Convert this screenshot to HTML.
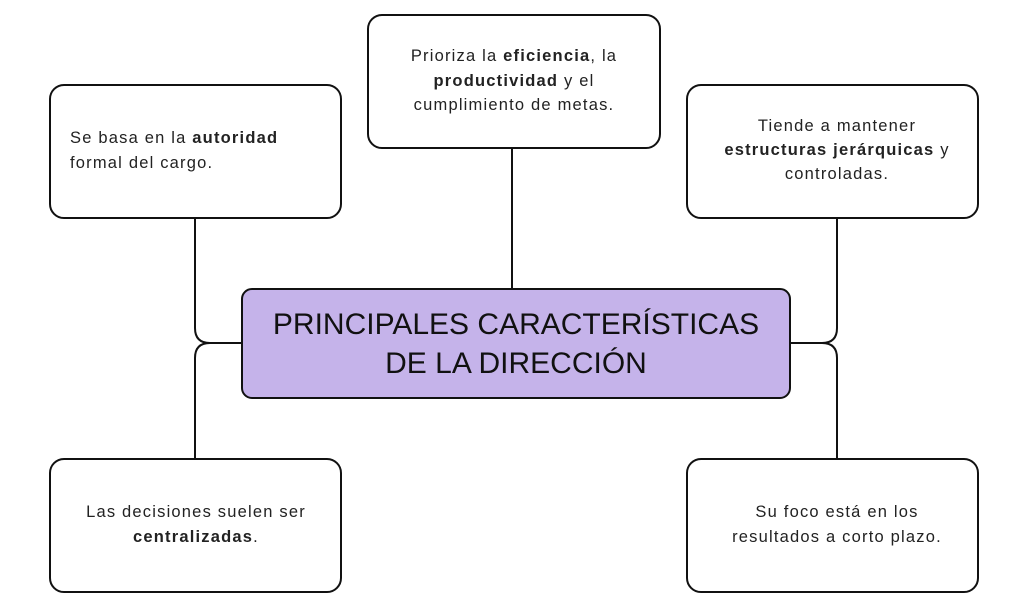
<!DOCTYPE html>
<html><head><meta charset="utf-8"><style>
html,body{margin:0;padding:0;background:#fff;}
svg{display:block;font-family:"Liberation Sans",sans-serif;}
text{fill:#222;font-size:16.5px;letter-spacing:1.2px;}
</style></head><body>
<svg width="1024" height="612" viewBox="0 0 1024 612">
<g fill="none" stroke="#111" stroke-width="2">
<path d="M512 148 V289"/>
<path d="M195 218 V328 Q195 343 210 343 H243"/>
<path d="M243 343 H210 Q195 343 195 358 V460"/>
<path d="M837 218 V328 Q837 343 822 343 H790"/>
<path d="M790 343 H822 Q837 343 837 358 V460"/>
<rect x="50" y="85" width="291" height="133" rx="14" fill="#fff"/>
<rect x="368" y="15" width="292" height="133" rx="14" fill="#fff"/>
<rect x="687" y="85" width="291" height="133" rx="14" fill="#fff"/>
<rect x="50" y="459" width="291" height="133" rx="14" fill="#fff"/>
<rect x="687" y="459" width="291" height="133" rx="14" fill="#fff"/>
<rect x="242" y="289" width="548" height="109" rx="10" fill="#c5b3ea"/>
</g>
<text x="70" y="143">Se basa en la <tspan font-weight="bold">autoridad</tspan></text>
<text x="70" y="168">formal del cargo.</text>
<g text-anchor="middle">
<text x="514" y="61">Prioriza la <tspan font-weight="bold">eficiencia</tspan>, la</text>
<text x="514" y="86"><tspan font-weight="bold">productividad</tspan> y el</text>
<text x="514" y="110">cumplimiento de metas.</text>
<text x="837" y="131">Tiende a mantener</text>
<text x="837" y="155"><tspan font-weight="bold">estructuras jerárquicas</tspan> y</text>
<text x="837" y="179">controladas.</text>
<text x="196" y="517">Las decisiones suelen ser</text>
<text x="196" y="542"><tspan font-weight="bold">centralizadas</tspan>.</text>
<text x="837" y="517">Su foco está en los</text>
<text x="837" y="542">resultados a corto plazo.</text>
<text x="516" y="334" style="font-size:30px;letter-spacing:0;fill:#111">PRINCIPALES CARACTERÍSTICAS</text>
<text x="516" y="373" style="font-size:30px;letter-spacing:0;fill:#111">DE LA DIRECCIÓN</text>
</g>
</svg>
</body></html>
